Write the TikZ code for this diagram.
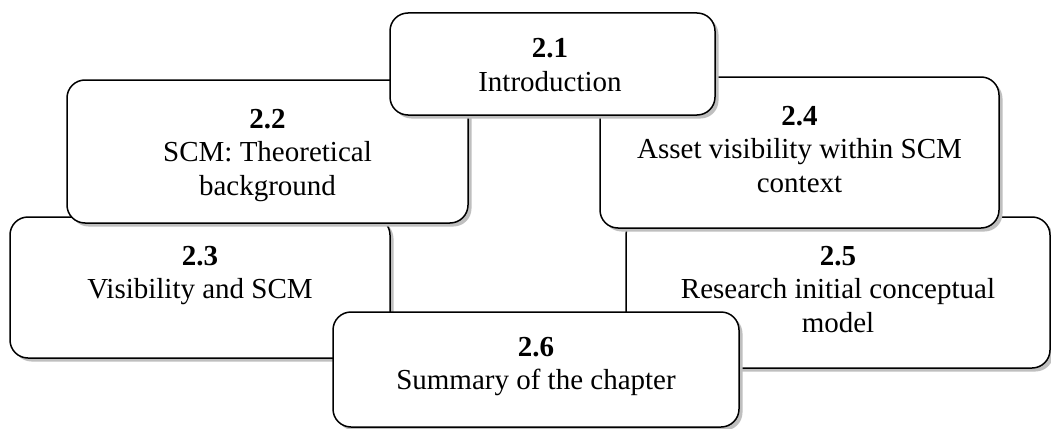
\documentclass[tikz,border=0pt]{standalone}
\usepackage{fontspec}
\setmainfont{Liberation Serif}
\usetikzlibrary{shadows}
\tikzset{
  secbox/.style={draw=black, line width=1.5pt, rounded corners=18pt, fill=white, inner sep=0pt,
    drop shadow={shadow xshift=3.5pt, shadow yshift=-3.5pt, fill=black!25, opacity=1}},
  sectext/.style={align=center, inner sep=0pt, anchor=north, font=\fontsize{29}{33.5}\selectfont},
}
\begin{document}
\begin{tikzpicture}[x=1pt,y=-1pt]
\useasboundingbox (0,0) rectangle (1051,428);
% 2.3
\node[secbox, minimum width=380pt, minimum height=141pt] (b23) at (200,287.5) {};
\node[sectext] (t23) at (200,246) {\textbf{2.3}\\Visibility and SCM};
% 2.5
\node[secbox, minimum width=424pt, minimum height=151pt] (b25) at (838,292.5) {};
\node[sectext] (t25) at (838,246) {\textbf{2.5}\\Research initial conceptual\\model};
% 2.2
\node[secbox, minimum width=401pt, minimum height=143pt] (b22) at (267.5,151.5) {};
\node[sectext] (t22) at (267.5,109) {\textbf{2.2}\\SCM: Theoretical\\background};
% 2.4
\node[secbox, minimum width=399pt, minimum height=151pt] (b24) at (799.5,152.5) {};
\node[sectext] (t24) at (799.5,106) {\textbf{2.4}\\Asset visibility within SCM\\context};
% 2.1
\node[secbox, minimum width=325pt, minimum height=102pt] (b21) at (552.5,64) {};
\node[sectext] (t21) at (550,38.5) {\textbf{2.1}\\Introduction};
% 2.6
\node[secbox, minimum width=406pt, minimum height=115pt] (b26) at (536,369.5) {};
\node[sectext] (t26) at (536,337) {\textbf{2.6}\\Summary of the chapter};
\end{tikzpicture}
\end{document}
